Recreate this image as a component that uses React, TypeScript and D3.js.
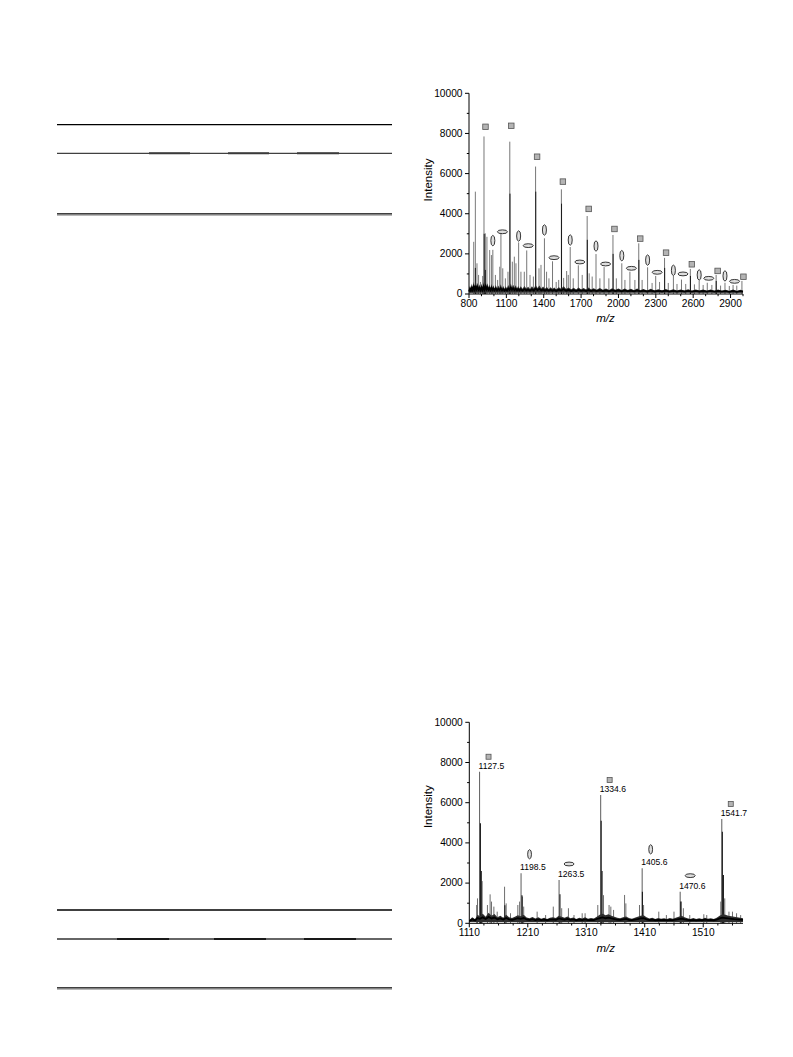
import React from 'react';
import * as d3 from 'd3';

// ---------- shared axis ticks ----------
const yTicks = [0, 2000, 4000, 6000, 8000, 10000];
const yMinor = [1000, 3000, 5000, 7000, 9000];

// ---------- chart 1 (full spectrum) ----------
const x1Ticks = [800, 1100, 1400, 1700, 2000, 2300, 2600, 2900];
const x1Minor = [900, 1000, 1200, 1300, 1500, 1600, 1800, 1900, 2100, 2200, 2400, 2500, 2700, 2800, 3000];
// [m/z, peak intensity, marker intensity]
const squares1 = [[920.4, 7850, 8330], [1127.5, 7590, 8380], [1334.6, 6350, 6840], [1541.7, 5215, 5600], [1748.8, 3885, 4240], [1955.9, 2940, 3240], [2163.0, 2525, 2760], [2370.1, 1800, 2060], [2577.2, 1250, 1480], [2784.3, 950, 1150], [2991.4, 650, 860]];
const vOvals1 = [[991.4, 2200, 2660], [1198.5, 2570, 2890], [1405.6, 2775, 3190], [1612.7, 2340, 2690], [1819.8, 1990, 2390], [2026.9, 1530, 1910], [2234.0, 1330, 1690], [2441.1, 900, 1180], [2648.2, 680, 950], [2855.3, 560, 900]];
const hOvals1 = [[1056.4, 3000, 3100], [1263.5, 2170, 2410], [1470.6, 1630, 1810], [1677.7, 1430, 1595], [1884.8, 1340, 1495], [2091.9, 1110, 1280], [2299.0, 900, 1080], [2506.1, 720, 1000], [2713.2, 560, 780], [2920.3, 450, 630]];
const minor1 = [[838, 2600], [851, 5100], [864, 1530], [877, 950], [892, 600], [910, 900], [931, 3020], [944, 2850], [966, 2190], [980, 1940], [1012, 950], [1030, 700], [1047, 1360], [1071, 1280], [1092, 780], [1113, 1110], [1148, 1610], [1164, 1860], [1177, 1530], [1217, 1110], [1244, 1110], [1290, 950], [1317, 870], [1362, 1280], [1378, 1450], [1423, 1110], [1442, 780], [1500, 600], [1520, 700], [1560, 800], [1584, 1145], [1597, 950], [1637, 780], [1709, 950], [1765, 1030], [1789, 870], [1851, 780], [1923, 780], [1983, 780], [2052, 700], [2132, 700], [2190, 700], [2270, 550], [2330, 600], [2400, 550], [2470, 500], [2540, 500], [2610, 480], [2680, 450], [2750, 450], [2820, 420], [2890, 400], [2950, 420]];
const dark1 = [[922, 3000], [1129, 5000], [1336, 5100], [1543, 4500], [1750, 2700], [1957, 2000], [2164, 1700], [2371, 1300], [2578, 900], [2785, 650], [851, 1300], [931, 1200]];
const noise1 = [[800, 180], [808, 420], [815, 250], [823, 520], [830, 300], [838, 610], [846, 340], [853, 700], [861, 380], [869, 560], [877, 330], [885, 480], [893, 290], [901, 520], [909, 310], [917, 600], [925, 350], [933, 650], [941, 380], [949, 540], [957, 330], [965, 470], [973, 300], [981, 500], [989, 310], [997, 430], [1005, 280], [1015, 450], [1025, 270], [1035, 420], [1045, 300], [1055, 480], [1065, 280], [1075, 400], [1085, 260], [1095, 380], [1105, 270], [1115, 450], [1125, 320], [1135, 520], [1145, 340], [1155, 460], [1165, 310], [1175, 430], [1185, 280], [1195, 400], [1205, 270], [1215, 380], [1230, 260], [1245, 400], [1260, 280], [1275, 360], [1290, 250], [1305, 380], [1320, 270], [1335, 450], [1350, 300], [1365, 420], [1380, 280], [1395, 370], [1410, 260], [1425, 350], [1440, 240], [1455, 340], [1470, 250], [1485, 320], [1500, 230], [1520, 340], [1540, 260], [1560, 380], [1580, 250], [1600, 330], [1620, 230], [1640, 310], [1660, 220], [1680, 320], [1700, 230], [1720, 300], [1740, 220], [1760, 320], [1780, 220], [1800, 290], [1825, 210], [1850, 300], [1875, 210], [1900, 280], [1925, 200], [1950, 290], [1975, 210], [2000, 280], [2025, 200], [2050, 270], [2075, 200], [2100, 260], [2125, 190], [2150, 270], [2175, 190], [2200, 250], [2230, 180], [2260, 260], [2290, 180], [2320, 240], [2350, 180], [2380, 250], [2410, 170], [2440, 240], [2470, 170], [2500, 230], [2530, 170], [2560, 240], [2590, 160], [2620, 230], [2650, 170], [2680, 220], [2710, 160], [2740, 230], [2770, 160], [2800, 220], [2830, 160], [2860, 210], [2890, 150], [2920, 220], [2950, 150], [2980, 210], [3000, 160]];

// ---------- chart 2 (zoomed spectrum) ----------
const x2Ticks = [1110, 1210, 1310, 1410, 1510];
const x2Minor = [1135, 1160, 1185, 1235, 1260, 1285, 1335, 1360, 1385, 1435, 1460, 1485, 1535, 1560];
const squares2 = [[1127.5, 7540], [1334.6, 6380], [1541.7, 5190]];
const vOvals2 = [[1198.5, 2490], [1405.6, 2735]];
const hOvals2 = [[1263.5, 2155], [1470.6, 1575]];
const minor2 = [[1122.6, 910], [1124, 1240], [1132, 2100], [1141, 910], [1145.6, 1440], [1148, 1080], [1152, 830], [1157.7, 580], [1170.3, 1820], [1173, 990], [1180.5, 500], [1193, 910], [1196, 1080], [1201, 1330], [1203, 830], [1226, 580], [1240.5, 410], [1253.6, 830], [1268, 750], [1279.5, 750], [1289, 410], [1303, 500], [1308, 500], [1329.7, 910], [1339.5, 1400], [1349, 910], [1352, 830], [1356.7, 665], [1375.5, 1410], [1377.7, 990], [1401, 910], [1408, 910], [1434, 580], [1447, 410], [1460, 580], [1472.5, 1080], [1476, 750], [1487, 410], [1511, 450], [1516, 410], [1540, 1080], [1546.8, 1240], [1554, 580], [1560, 580], [1567, 500], [1574, 410]];
const dark2 = [[1129, 4975], [1130.5, 2600], [1335.5, 5100], [1337, 2600], [1542.7, 4560], [1544.5, 2400], [1406, 1575], [1200, 1400], [1265, 1440], [1471.5, 1080], [1170.8, 900]];
const noise2 = [[1110, 150], [1115, 300], [1120, 200], [1124, 420], [1128, 350], [1133, 480], [1138, 330], [1143, 520], [1148, 380], [1153, 460], [1158, 300], [1163, 380], [1168, 280], [1173, 420], [1178, 300], [1183, 260], [1188, 330], [1193, 400], [1198, 350], [1203, 420], [1208, 290], [1213, 250], [1218, 310], [1223, 240], [1228, 300], [1233, 230], [1238, 280], [1243, 220], [1248, 270], [1253, 300], [1258, 260], [1263, 380], [1268, 330], [1273, 280], [1278, 340], [1283, 250], [1288, 290], [1293, 220], [1298, 270], [1303, 240], [1308, 300], [1313, 230], [1318, 260], [1323, 240], [1328, 330], [1333, 420], [1338, 480], [1343, 400], [1348, 450], [1353, 380], [1358, 330], [1363, 280], [1368, 250], [1373, 300], [1378, 340], [1383, 260], [1388, 230], [1393, 270], [1398, 320], [1403, 380], [1408, 400], [1413, 300], [1418, 240], [1423, 270], [1428, 220], [1433, 260], [1438, 230], [1443, 250], [1448, 210], [1453, 260], [1458, 230], [1463, 280], [1468, 330], [1473, 370], [1478, 300], [1483, 250], [1488, 220], [1493, 260], [1498, 210], [1503, 250], [1508, 220], [1513, 270], [1518, 230], [1523, 250], [1528, 220], [1533, 280], [1538, 380], [1543, 450], [1548, 420], [1553, 380], [1558, 350], [1563, 320], [1568, 300], [1573, 280], [1578, 250]];

const FONT = '"Liberation Sans", Arial, Helvetica, sans-serif';

type P = number[];

function Square({ x, y, s }: { x: number; y: number; s: number }) {
  return <rect x={x - s / 2} y={y - s / 2} width={s} height={s} fill="#b4b4b4" stroke="#555" strokeWidth={0.8} />;
}
function Oval({ x, y, rx, ry }: { x: number; y: number; rx: number; ry: number }) {
  return <ellipse cx={x} cy={y} rx={rx} ry={ry} fill="#dedede" stroke="#222" strokeWidth={0.9} />;
}

function Axes({ x, y, xTicks, xMinor, yLabelX, xLabelY, yTitleY, xTitleY }: any) {
  const [x0, x1] = x.range();
  const [y0, y1] = y.range();
  return (
    <g fontFamily={FONT} fill="#000">
      <line x1={x0} x2={x0} y1={y0} y2={y1} stroke="#000" strokeWidth={1} />
      <line x1={x0} x2={x1} y1={y0} y2={y0} stroke="#000" strokeWidth={1} />
      {yTicks.map((t) => (
        <g key={'y' + t}>
          <line x1={x0 - 4} x2={x0} y1={y(t)} y2={y(t)} stroke="#000" />
          <text x={x0 - 6.5} y={y(t) + 3.3} fontSize={10.2} textAnchor="end">{t}</text>
        </g>
      ))}
      {yMinor.map((t) => <line key={'ym' + t} x1={x0 - 2.2} x2={x0} y1={y(t)} y2={y(t)} stroke="#000" />)}
      {xTicks.map((t: number) => (
        <g key={'x' + t}>
          <line x1={x(t)} x2={x(t)} y1={y0} y2={y0 + 4} stroke="#000" />
          <text x={x(t)} y={y0 + 12.8} fontSize={10.2} textAnchor="middle">{t}</text>
        </g>
      ))}
      {xMinor.map((t: number) => <line key={'xm' + t} x1={x(t)} x2={x(t)} y1={y0} y2={y0 + 2.2} stroke="#000" />)}
      <text transform={`translate(${yLabelX},${yTitleY}) rotate(-90)`} fontSize={11.5} textAnchor="middle">Intensity</text>
      <text x={(x0 + x1) / 2 - 0.5} y={xTitleY} fontSize={11.5} fontStyle="italic" textAnchor="middle">m/z</text>
    </g>
  );
}

function Peaks({ x, y, list, color, w }: { x: any; y: any; list: P[]; color: string; w: number }) {
  return (
    <g>
      {list.map((p, i) => (
        <line key={i} x1={x(p[0])} x2={x(p[0])} y1={y(0)} y2={y(p[1])} stroke={color} strokeWidth={w} />
      ))}
    </g>
  );
}

function Noise({ x, y, data, base }: { x: any; y: any; data: P[]; base: number }) {
  const area = d3.area<P>().x((d) => x(d[0])).y0(y(base)).y1((d) => y(d[1])).curve(d3.curveLinear);
  const line = d3.line<P>().x((d) => x(d[0])).y((d) => y(d[1] * 0.55 + base * 0.45));
  return (
    <g>
      <path d={area(data) || ''} fill="#2e2e2e" />
      <path d={line(data) || ''} fill="none" stroke="#000" strokeWidth={1.8} />
    </g>
  );
}

function Chart1() {
  const x = d3.scaleLinear().domain([800, 3000]).range([469, 743]);
  const y = d3.scaleLinear().domain([0, 10000]).range([294, 93.3]);
  const main = [...squares1, ...vOvals1, ...hOvals1].map((d) => [d[0], d[1]]);
  return (
    <g>
      <Peaks x={x} y={y} list={minor1} color="#7a7a7a" w={1} />
      <Peaks x={x} y={y} list={main} color="#777" w={1} />
      <Peaks x={x} y={y} list={dark1} color="#1a1a1a" w={1} />
      <Noise x={x} y={y} data={noise1} base={60} />
      {squares1.map((d, i) => <Square key={'s' + i} x={x(d[0]) + 1.5} y={y(d[2])} s={5.5} />)}
      {vOvals1.map((d, i) => <Oval key={'v' + i} x={x(d[0])} y={y(d[2])} rx={2} ry={5.2} />)}
      {hOvals1.map((d, i) => <Oval key={'h' + i} x={x(d[0]) + 1.5} y={y(d[2])} rx={5} ry={1.9} />)}
      <Axes x={x} y={y} xTicks={x1Ticks} xMinor={x1Minor} yLabelX={432} yTitleY={180} xTitleY={322} />
    </g>
  );
}

function Chart2() {
  const x = d3.scaleLinear().domain([1110, 1578]).range([469.3, 743]);
  const y = d3.scaleLinear().domain([0, 10000]).range([923.3, 722.3]);
  const main = [...squares2, ...vOvals2, ...hOvals2];
  const label = (d: P, k: string) => (
    <text key={k} x={x(d[0]) - 1} y={y(d[1]) - 3} fontSize={8.6} fontFamily={FONT} fill="#000">{d[0].toFixed(1)}</text>
  );
  return (
    <g>
      <Peaks x={x} y={y} list={minor2} color="#6e6e6e" w={1} />
      <Peaks x={x} y={y} list={main} color="#6a6a6a" w={1.1} />
      <Peaks x={x} y={y} list={dark2} color="#1a1a1a" w={1.1} />
      <Noise x={x} y={y} data={noise2} base={70} />
      {main.map((d, i) => label(d, 'l' + i))}
      {squares2.map((d, i) => <Square key={'s' + i} x={x(d[0]) + 9} y={y(d[1]) - 15} s={5} />)}
      {vOvals2.map((d, i) => <Oval key={'v' + i} x={x(d[0]) + 8.5} y={y(d[1]) - 19} rx={1.9} ry={4.6} />)}
      {hOvals2.map((d, i) => <Oval key={'h' + i} x={x(d[0]) + 10} y={y(d[1]) - 16} rx={5} ry={1.9} />)}
      <Axes x={x} y={y} xTicks={x2Ticks} xMinor={x2Minor} yLabelX={432} yTitleY={806.7} xTitleY={951.5} />
    </g>
  );
}

function TableRules({ top, mid, bottom, segs, mode }: { top: number; mid: number; bottom: number; segs: number[][]; mode: string }) {
  const xa = 57, xb = 392;
  return (
    <g>
      <line x1={xa} x2={xb} y1={top} y2={top} stroke="#000" strokeWidth={1.3} />
      <line x1={xa} x2={xb} y1={mid} y2={mid} stroke={mode === 'a' ? '#111' : '#333'} strokeWidth={mode === 'a' ? 1 : 1.5} />
      {segs.map((s, i) => (
        <line key={i} x1={s[0]} x2={s[1]} y1={mid} y2={mid} stroke={mode === 'a' ? '#3a3a3a' : '#000'} strokeWidth={mode === 'a' ? 2 : 1.6} />
      ))}
      <line x1={xa} x2={xb} y1={bottom - 0.4} y2={bottom - 0.4} stroke="#000" strokeWidth={1.2} />
      <line x1={xa} x2={xb} y1={bottom + 0.8} y2={bottom + 0.8} stroke="#888" strokeWidth={1} />
    </g>
  );
}

export default function App() {
  return (
    <svg width={793} height={1057} style={{ position: 'absolute', left: 0, top: 0, background: '#fff' }}>
      <rect x={0} y={0} width={793} height={1057} fill="#fff" />
      <TableRules top={124.7} mid={153.3} bottom={214.3} segs={[[149, 190], [228, 269], [297, 339]]} mode="a" />
      <TableRules top={910} mid={939} bottom={988.3} segs={[[117, 169], [214, 266], [304, 356]]} mode="b" />
      <Chart1 />
      <Chart2 />
    </svg>
  );
}
